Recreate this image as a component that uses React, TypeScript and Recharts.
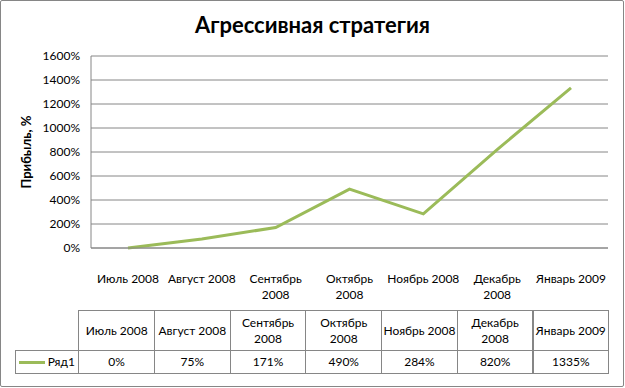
import React from 'react';
import { LineChart, Line, XAxis, YAxis, CartesianGrid } from 'recharts';

const categories = ['Июль 2008', 'Август 2008', 'Сентябрь 2008', 'Октябрь 2008', 'Ноябрь 2008', 'Декабрь 2008', 'Январь 2009'];
const profit = [0, 75, 171, 490, 284, 820, 1335];
const yTicks = [0, 200, 400, 600, 800, 1000, 1200, 1400, 1600];
const seriesName = 'Ряд1';

const FONT = 'Lato, "Open Sans", sans-serif';
const GRID = '#868686';
const GREEN = '#9BBB59';

// длинные подписи Excel переносит на вторую строку
const wrap = (s: string): string[] => {
  if (s.length <= 11) return [s];
  const i = s.lastIndexOf(' ');
  return [s.slice(0, i), s.slice(i + 1)];
};

const chartData = categories.map((name, i) => ({ name, value: profit[i] }));

const XTick = (props: any) => {
  const { x, y, payload } = props;
  const lines = wrap(payload.value);
  return (
    <text x={x} y={y} textAnchor="middle" fontFamily={FONT} fontSize={12} fill="#000">
      {lines.map((l, i) => (
        <tspan key={i} x={x} dy={i === 0 ? 23 + 4 : 16}>{l}</tspan>
      ))}
    </text>
  );
};

const YTick = (props: any) => {
  const { y, payload } = props;
  return (
    <text x={80} y={y} dy={4} textAnchor="end" fontFamily={FONT} fontSize={12} fill="#000">
      {payload.value}%
    </text>
  );
};

const tableLeft = 78.3;
const colW = 75.7;
const headTop = 310.3;
const headH = 40;
const rowH = 22.7;

const DataTable = () => {
  const cell: React.CSSProperties = {
    position: 'absolute',
    boxSizing: 'border-box',
    border: `1px solid ${GRID}`,
    display: 'flex',
    alignItems: 'center',
    justifyContent: 'center',
    textAlign: 'center',
    fontFamily: FONT,
    fontSize: 12,
    lineHeight: '16px',
    color: '#000',
  };
  return (
    <>
      {categories.map((c, i) => (
        <div key={'h' + i} style={{ ...cell, left: tableLeft + i * colW, top: headTop, width: colW + 1, height: headH + 1 }}>
          <div>{wrap(c).map((l, j) => <div key={j}>{l}</div>)}</div>
        </div>
      ))}
      <div style={{ ...cell, left: 14.7, top: headTop + headH, width: tableLeft - 14.7 + 1, height: rowH + 1, justifyContent: 'flex-start' }}>
        <span style={{ display: 'inline-block', width: 26, height: 3, background: GREEN, marginLeft: 3, marginRight: 3 }} />
        <span>{seriesName}</span>
      </div>
      {profit.map((v, i) => (
        <div key={'v' + i} style={{ ...cell, left: tableLeft + i * colW, top: headTop + headH, width: colW + 1, height: rowH + 1 }}>
          {v}%
        </div>
      ))}
    </>
  );
};

export default function App() {
  return (
    <div style={{ position: 'relative', width: 625, height: 388, background: '#fff' }}>
      <style>{'body{margin:0}'}</style>
      <div style={{ position: 'absolute', left: 0, top: 0, width: 624, height: 387, boxSizing: 'border-box', border: `1px solid ${GRID}`, borderRadius: 2 }} />
      <div style={{ position: 'absolute', left: 0, top: 11, width: 625, textAlign: 'center', fontFamily: FONT, fontWeight: 700, fontSize: 22, lineHeight: '28px' }}>
        Агрессивная стратегия
      </div>
      <div style={{ position: 'absolute', left: 26, top: 152, transform: 'translate(-50%, -50%) rotate(-90deg)', whiteSpace: 'nowrap', fontFamily: FONT, fontWeight: 700, fontSize: 13 }}>
        Прибыль, %
      </div>
      <LineChart width={625} height={388} data={chartData} margin={{ top: 56, right: 17, bottom: 100, left: 31 }} style={{ position: 'absolute', left: 0, top: 0 }}>
        <CartesianGrid vertical={false} stroke={GRID} />
        <XAxis dataKey="name" height={40} tickLine={false} axisLine={{ stroke: GRID }} tick={<XTick />} interval={0} padding={{ left: 37, right: 37 }} />
        <YAxis width={60} domain={[0, 1600]} ticks={yTicks} tickLine={false} axisLine={{ stroke: GRID }} tick={<YTick />} interval={0} />
        <Line type="linear" dataKey="value" stroke={GREEN} strokeWidth={3} dot={false} isAnimationActive={false} />
      </LineChart>
      <DataTable />
    </div>
  );
}
